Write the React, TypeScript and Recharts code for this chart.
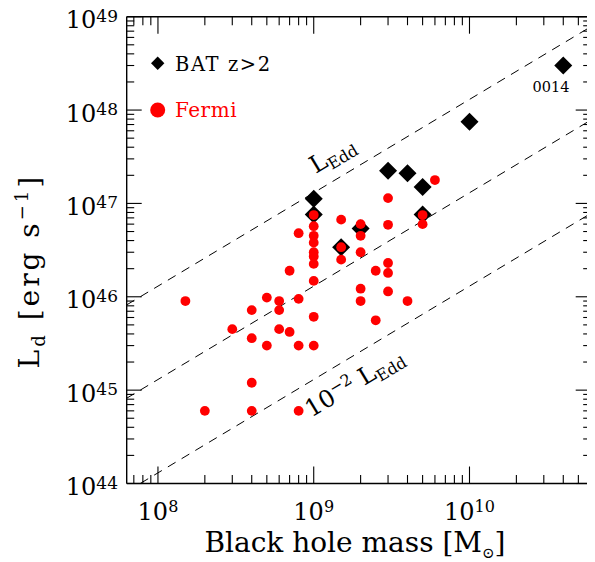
import React from 'react';
import { ScatterChart, Scatter, XAxis, YAxis, ReferenceDot } from 'recharts';

const FONT = '"DejaVu Serif", "Liberation Serif", serif';
const W = 595;
const H = 562;
const MARGIN = { top: 15.7, right: 3.3, bottom: 8.5, left: 16.7 };
const X_AXIS_H = 70;
const Y_AXIS_W = 110;
const TOP_AXIS_H = 1;
const RIGHT_AXIS_W = 1;
const PLOT_W = W - MARGIN.left - MARGIN.right - Y_AXIS_W - RIGHT_AXIS_W;
const PLOT_H = H - MARGIN.top - MARGIN.bottom - X_AXIS_H - TOP_AXIS_H;

// ---- axes ----
const X_DOMAIN: [number, number] = [6.3e7, 6.0e10];
const Y_DOMAIN: [number, number] = [1e44, 1e49];
const X_MAJOR_TICKS = [1e8, 1e9, 1e10];
const Y_MAJOR_TICKS = [1e44, 1e45, 1e46, 1e47, 1e48, 1e49];
const X_MINOR_TICKS = [
  7e7, 8e7, 9e7,
  2e8, 3e8, 4e8, 5e8, 6e8, 7e8, 8e8, 9e8,
  2e9, 3e9, 4e9, 5e9, 6e9, 7e9, 8e9, 9e9,
  2e10, 3e10, 4e10, 5e10,
];
const Y_DECADES = [1e44, 1e45, 1e46, 1e47, 1e48];
const MANTISSAS = [2, 3, 4, 5, 6, 7, 8, 9];
const Y_MINOR_TICKS = Y_DECADES.flatMap((d) => MANTISSAS.map((m) => m * d));
const X_ALL_TICKS = [...X_MINOR_TICKS, ...X_MAJOR_TICKS].sort((a, b) => a - b);
const Y_ALL_TICKS = [...Y_MINOR_TICKS, ...Y_MAJOR_TICKS].sort((a, b) => a - b);

// ---- BAT z>2 blazars ----
const BAT_MASS = [1e9, 1e9, 1.5e9, 2e9, 3e9, 4e9, 5e9, 5e9, 1e10, 4e10];
const BAT_LD = [1.12e47, 7.6e46, 3.4e46, 5.4e46, 2.24e47, 2.1e47, 1.5e47, 7.6e46, 7.5e47, 3.0e48];
const BAT_TAG = ['', '', '', '', '', '', '', '', '', '0014'];

// ---- Fermi blazars ----
const FERMI_MASS = [
  1.5e8, 2e8, 3e8, 4e8, 4e8, 4e8, 4e8, 5e8, 5e8, 6e8, 6e8, 6e8, 7e8, 7e8,
  8e8, 8e8, 8e8, 8e8,
  1e9, 1e9, 1e9, 1e9, 1e9, 1e9, 1e9, 1e9, 1e9, 1e9,
  1.5e9, 1.5e9, 1.5e9,
  2e9, 2e9, 2e9, 2e9, 2e9,
  2.5e9, 2.5e9,
  3e9, 3e9, 3e9, 3e9, 3e9,
  4e9, 5e9, 5e9, 6e9,
];
const FERMI_LD = [
  9e45, 6e44, 4.5e45, 7.2e45, 3.6e45, 1.2e45, 6e44, 9.8e45, 3.0e45, 9e45, 7.2e45, 4.5e45, 1.9e46, 4.2e45,
  4.8e46, 9.5e45, 3.0e45, 6e44,
  7.5e46, 5.7e46, 4.5e46, 3.8e46, 3.0e46, 2.7e46, 2.25e46, 1.48e46, 6.1e45, 3.0e45,
  6.7e46, 3.4e46, 2.5e46,
  6.0e46, 4.5e46, 3.0e46, 1.22e46, 9.0e45,
  1.9e46, 5.6e45,
  1.14e47, 5.9e46, 2.3e46, 1.8e46, 1.14e46,
  9.0e45, 7.5e46, 6.0e46, 1.78e47,
];

// ---- Eddington lines ----
const EDD_COEFF = 1.3e38; // erg/s per solar mass
const EDD_FRACTIONS = [1, 0.1, 0.01];
const EDD_LABEL_AT = { m: 1.03e9, l: 2.07e47 };
const EDD2_LABEL_AT = { m: 9.66e8, l: 5.05e44 };
const LINE_ANGLE = -31;

const batData = BAT_MASS.map((m, i) => ({ m, l: BAT_LD[i], tag: BAT_TAG[i] }));
const fermiData = FERMI_MASS.map((m, i) => ({ m, l: FERMI_LD[i] }));
const eddLines = EDD_FRACTIONS.map((f) => X_DOMAIN.map((m) => ({ m, l: f * EDD_COEFF * m })));

const X_MAJ_LEN = 17;
const X_MIN_LEN = 8.5;
const Y_MAJ_LEN = 15;
const Y_MIN_LEN = 7.5;
const TICK_W = 1.1;

const isMajor = (v: number, majors: number[]) => majors.some((t) => Math.abs(t - v) / t < 1e-6);

const Diamond = (props: any) => {
  const { cx, cy } = props;
  const tag = props.payload?.tag ?? props.tag;
  const h = 9;
  return (
    <g>
      <polygon points={`${cx},${cy - h} ${cx + h},${cy} ${cx},${cy + h} ${cx - h},${cy}`} fill="#000" />
      {tag ? (
        <text x={cx - 12.3} y={cy + 26.6} textAnchor="middle" fontFamily={FONT} fontSize={14.5} fill="#000">
          {tag}
        </text>
      ) : null}
    </g>
  );
};

const Dot = (props: any) => <circle cx={props.cx} cy={props.cy} r={4.9} fill="#ff0000" />;
const Empty = () => <g />;

// bottom axis tick: inward mark at bottom and matching mark at top frame, plus label
const XTick = (props: any) => {
  const { x, y, payload } = props;
  const major = isMajor(payload.value, X_MAJOR_TICKS);
  const len = major ? X_MAJ_LEN : X_MIN_LEN;
  const exp = Math.round(Math.log10(payload.value));
  const yTop = y - PLOT_H;
  return (
    <g>
      <line x1={x} x2={x} y1={y} y2={y - len} stroke="#000" strokeWidth={TICK_W} />
      <line x1={x} x2={x} y1={yTop} y2={yTop + len} stroke="#000" strokeWidth={TICK_W} />
      {major ? (
        <text x={x} y={y + 36.5} textAnchor="middle" fontFamily={FONT} fontSize={24} fill="#000">
          10<tspan dy={-8} fontSize={16}>{exp}</tspan>
        </text>
      ) : null}
    </g>
  );
};

// left axis tick: inward mark at left and matching mark at right frame, plus label
const YTick = (props: any) => {
  const { x, y, payload } = props;
  const major = isMajor(payload.value, Y_MAJOR_TICKS);
  const len = major ? Y_MAJ_LEN : Y_MIN_LEN;
  const exp = Math.round(Math.log10(payload.value));
  const xRight = x + PLOT_W;
  return (
    <g>
      <line x1={x} x2={x + len} y1={y} y2={y} stroke="#000" strokeWidth={TICK_W} />
      <line x1={xRight} x2={xRight - len} y1={y} y2={y} stroke="#000" strokeWidth={TICK_W} />
      {major ? (
        <text x={x - 8.7} y={y + 11.5} textAnchor="end" fontFamily={FONT} fontSize={24} fill="#000">
          10<tspan dy={-6.5} fontSize={17}>{exp}</tspan>
        </text>
      ) : null}
    </g>
  );
};

const XTitle = (props: any) => {
  const vb = props.viewBox ?? { x: 126.7, y: 483.5, width: PLOT_W, height: X_AXIS_H };
  const cx = vb.x + vb.width / 2 - 3.7;
  const cy = vb.y + 68.5;
  return (
    <text x={cx} y={cy} textAnchor="middle" fontFamily={FONT} fontSize={28} fill="#000">
      {'Black hole mass [M'}
      <tspan dy={6} fontSize={15}>⊙</tspan>
      <tspan dy={-6}>]</tspan>
    </text>
  );
};

const YTitle = (props: any) => {
  const vb = props.viewBox ?? { x: 16.7, y: 16.7, width: Y_AXIS_W, height: PLOT_H };
  const cx = vb.x + 22.7;
  const cy = vb.y + vb.height / 2 + 21;
  return (
    <text
      x={cx}
      y={cy}
      transform={`rotate(-90, ${cx}, ${cy})`}
      textAnchor="middle"
      fontFamily={FONT}
      fontSize={28}
      letterSpacing={3}
      fill="#000"
    >
      L<tspan dy={6} fontSize={18}>d</tspan>
      <tspan dy={-6}>{' [erg s'}</tspan>
      <tspan dy={-11} fontSize={18}>−1</tspan>
      <tspan dy={11}>]</tspan>
    </text>
  );
};

const EddLabel = (props: any) => {
  const { cx, cy } = props;
  return (
    <text x={cx} y={cy} transform={`rotate(${LINE_ANGLE}, ${cx}, ${cy})`} fontFamily={FONT} fontSize={24} fill="#000">
      L<tspan dy={5} fontSize={16}>Edd</tspan>
    </text>
  );
};

const Edd2Label = (props: any) => {
  const { cx, cy } = props;
  return (
    <text x={cx} y={cy} transform={`rotate(${LINE_ANGLE}, ${cx}, ${cy})`} fontFamily={FONT} fontSize={24} fill="#000">
      10<tspan dy={-9} fontSize={16}>−2</tspan>
      <tspan dy={9}>{' L'}</tspan>
      <tspan dy={5} fontSize={16}>Edd</tspan>
    </text>
  );
};

const Legend = () => (
  <svg width={W} height={H} style={{ position: 'absolute', left: 0, top: 0, pointerEvents: 'none' }}>
    <polygon points="157.7,56.6 164.4,63.3 157.7,70 151,63.3" fill="#000" />
    <text x={175} y={70.7} fontFamily={FONT} fontSize={19.5} letterSpacing={1.6} fill="#000">BAT z&gt;2</text>
    <circle cx={157.7} cy={110} r={7.5} fill="#ff0000" />
    <text x={175} y={117.3} fontFamily={FONT} fontSize={20} letterSpacing={0.5} fill="#ff0000">Fermi</text>
  </svg>
);

const common = { type: 'number' as const, scale: 'log' as const, allowDataOverflow: true, interval: 0 as const };
const frameStyle = { stroke: '#000', strokeWidth: 1.4 };

export default function App() {
  return (
    <div style={{ position: 'relative', width: W, height: H, margin: '-8px 0 0 -8px' }}>
      <ScatterChart width={W} height={H} margin={MARGIN}>
        <XAxis
          {...common}
          xAxisId="main"
          dataKey="m"
          domain={X_DOMAIN}
          ticks={X_ALL_TICKS}
          height={X_AXIS_H}
          tickLine={false}
          tickSize={0}
          tickMargin={0}
          tick={<XTick />}
          axisLine={frameStyle}
          label={<XTitle />}
        />
        <XAxis
          {...common}
          xAxisId="top"
          orientation="top"
          domain={X_DOMAIN}
          ticks={X_MAJOR_TICKS}
          height={TOP_AXIS_H}
          tickLine={false}
          tick={false}
          axisLine={frameStyle}
        />
        <YAxis
          {...common}
          yAxisId="main"
          dataKey="l"
          domain={Y_DOMAIN}
          ticks={Y_ALL_TICKS}
          width={Y_AXIS_W}
          tickLine={false}
          tickSize={0}
          tickMargin={0}
          tick={<YTick />}
          axisLine={frameStyle}
          label={<YTitle />}
        />
        <YAxis
          {...common}
          yAxisId="right"
          orientation="right"
          domain={Y_DOMAIN}
          ticks={Y_MAJOR_TICKS}
          width={RIGHT_AXIS_W}
          tickLine={false}
          tick={false}
          axisLine={frameStyle}
        />

        {eddLines.map((d, i) => (
          <Scatter
            key={`edd${i}`}
            xAxisId="main"
            yAxisId="main"
            data={d}
            line={{ stroke: '#000', strokeWidth: 1, strokeDasharray: '9 7' }}
            shape={<Empty />}
            isAnimationActive={false}
          />
        ))}
        <Scatter xAxisId="main" yAxisId="main" data={batData} shape={<Diamond />} isAnimationActive={false} />
        <Scatter xAxisId="main" yAxisId="main" data={fermiData} shape={<Dot />} isAnimationActive={false} />

        <ReferenceDot xAxisId="main" yAxisId="main" x={EDD_LABEL_AT.m} y={EDD_LABEL_AT.l} r={0} ifOverflow="visible" shape={<EddLabel />} />
        <ReferenceDot xAxisId="main" yAxisId="main" x={EDD2_LABEL_AT.m} y={EDD2_LABEL_AT.l} r={0} ifOverflow="visible" shape={<Edd2Label />} />
      </ScatterChart>
      <Legend />
    </div>
  );
}
